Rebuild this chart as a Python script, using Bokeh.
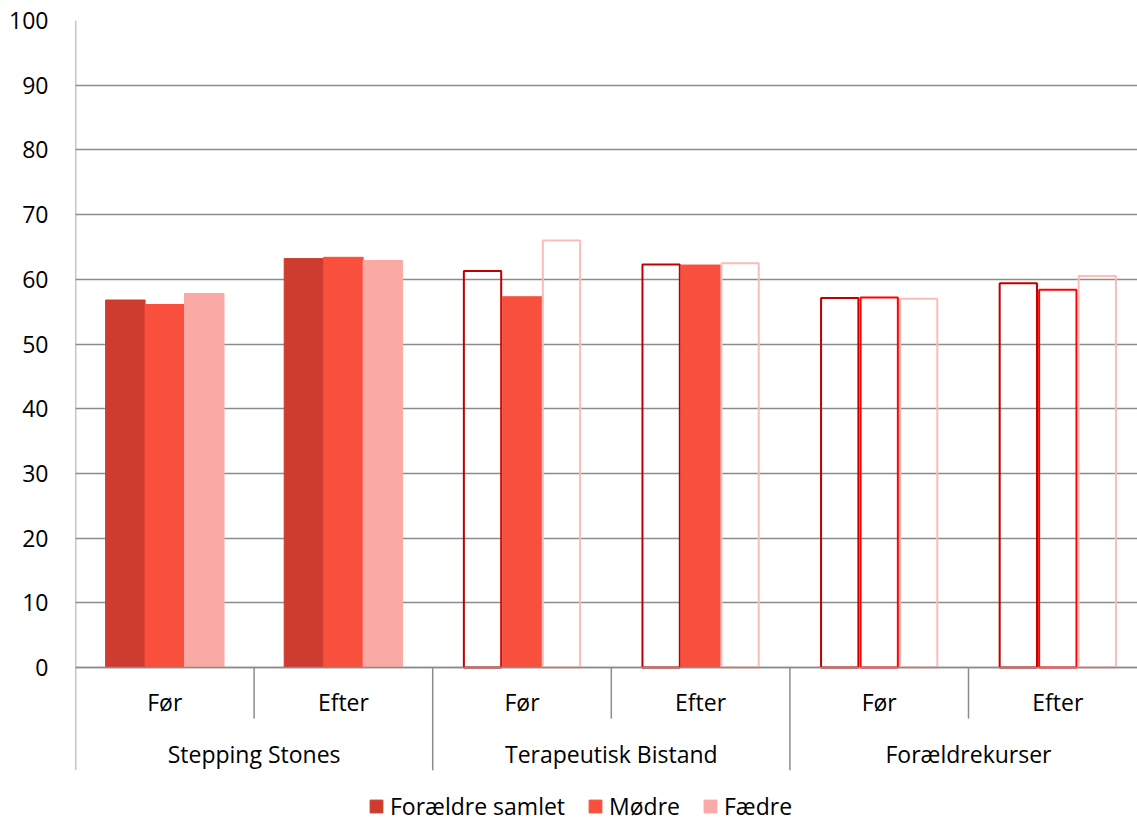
from bokeh.plotting import figure
from bokeh.models import Range1d, FixedTicker, Legend, LegendItem
from bokeh.core.properties import value
from bokeh.embed import file_html
from bokeh.resources import INLINE

groups = ["Stepping Stones", "Terapeutisk Bistand", "Forældrekurser"]
phases = ["Før", "Efter", "Før", "Efter", "Før", "Efter"]
series_names = ["Forældre samlet", "Mødre", "Fædre"]
samlet = [56.8, 63.2, 61.3, 62.3, 57.1, 59.4]
modre = [56.1, 63.4, 57.3, 62.2, 57.2, 58.4]
faedre = [57.8, 62.9, 66.0, 62.5, 57.0, 60.5]
# which bars are drawn filled (True) or only as outlines (False)
samlet_filled = [True, True, False, False, False, False]
modre_filled = [True, True, True, True, False, False]
faedre_filled = [True, True, False, False, False, False]
y_ticks = list(range(0, 101, 10))

FONT = "Open Sans"
FS = "23px"
fill_colors = ["#CE3B2F", "#F94F3D", "#FBA9A4"]
outline_colors = ["#C00000", "#FF0000", "#F9BDBA"]

PX_PER_UNIT = 6.47
y_bottom = -(824 - 667) / PX_PER_UNIT
slot_px = 178.6
x_end = (1137 - 75) / slot_px

p = figure(width=1137, height=824, output_backend="svg", toolbar_location=None,
           x_range=Range1d(0, x_end), y_range=Range1d(y_bottom, 100),
           min_border_left=75, min_border_right=0, min_border_top=20, min_border_bottom=0)
p.outline_line_color = None
p.xaxis.visible = False
p.xgrid.visible = False
p.yaxis.ticker = FixedTicker(ticks=y_ticks)
p.yaxis.axis_line_color = None
p.yaxis.major_tick_line_color = None
p.yaxis.minor_tick_line_color = None
p.yaxis.major_tick_out = 0
p.yaxis.major_label_standoff = 27
p.yaxis.major_label_text_font = FONT
p.yaxis.major_label_text_font_size = FS
p.yaxis.major_label_text_color = "#000000"
p.ygrid.grid_line_color = "#8c8c8c"
p.ygrid.grid_line_width = 1.5

bw = 0.221
offsets = [-bw, 0.0, bw]
all_vals = [samlet, modre, faedre]
all_filled = [samlet_filled, modre_filled, faedre_filled]
legend_items = []
for s, (vals, filled) in enumerate(zip(all_vals, all_filled)):
    xf = [i + 0.5 + offsets[s] for i in range(len(vals)) if filled[i]]
    yf = [v for i, v in enumerate(vals) if filled[i]]
    xo = [i + 0.5 + offsets[s] for i in range(len(vals)) if not filled[i]]
    yo = [v for i, v in enumerate(vals) if not filled[i]]
    r = p.vbar(x=xf, top=yf, bottom=0, width=bw, fill_color=fill_colors[s],
               line_color=fill_colors[s], line_width=1)
    p.vbar(x=xo, top=yo, bottom=0, width=bw - 0.012, fill_color="white", fill_alpha=0,
           line_color=outline_colors[s], line_width=2)
    legend_items.append(LegendItem(label=series_names[s], renderers=[r]))

# category axis lines (drawn above the bars)
axis_col = "#8c8c8c"
n = len(phases)
p.segment(x0=[0], y0=[0], x1=[x_end], y1=[0], line_color=axis_col, line_width=1.5)
p.segment(x0=[0], y0=[-15.9], x1=[0], y1=[100], line_color=axis_col, line_width=1.5)
major_x = [2 * g for g in range(1, len(groups) + 1)]
p.segment(x0=major_x, y0=[-15.9] * len(major_x), x1=major_x, y1=[0] * len(major_x),
          line_color=axis_col, line_width=1.5)
minor_x = [2 * g + 1 for g in range(len(groups))]
p.segment(x0=minor_x, y0=[-7.9] * len(minor_x), x1=minor_x, y1=[0] * len(minor_x),
          line_color=axis_col, line_width=1.5)

p.text(x=[i + 0.5 for i in range(n)], y=[-5.4] * n, text=phases,
       text_font=value(FONT), text_font_size=FS, text_color="#000000",
       text_align="center", text_baseline="middle")
p.text(x=[2 * g + 1 for g in range(len(groups))], y=[-13.3] * len(groups), text=groups,
       text_font=value(FONT), text_font_size=FS, text_color="#000000",
       text_align="center", text_baseline="middle")

legend = Legend(items=legend_items, location=(293, 2), orientation="horizontal")
legend.label_text_font = FONT
legend.label_text_font_size = FS
legend.label_text_color = "#000000"
legend.glyph_width = 16
legend.glyph_height = 16
legend.label_standoff = 6
legend.spacing = 22
legend.padding = 0
legend.margin = 0
legend.border_line_color = None
legend.background_fill_alpha = 0
p.add_layout(legend, "center")

open("out.html", "w").write(file_html(p, INLINE))
